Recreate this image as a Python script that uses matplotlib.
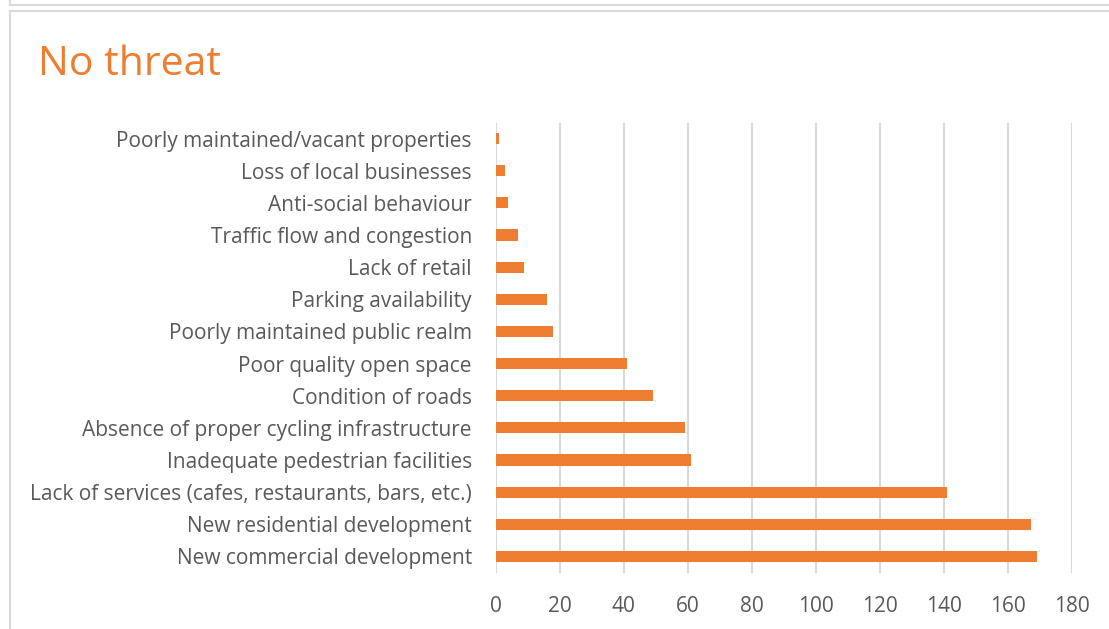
import matplotlib
matplotlib.use("Agg")
import matplotlib.pyplot as plt
from matplotlib.lines import Line2D

# categorias de abajo hacia arriba
categorias = [
    "New commercial development",
    "New residential development",
    "Lack of services (cafes, restaurants, bars, etc.)",
    "Inadequate pedestrian facilities",
    "Absence of proper cycling infrastructure",
    "Condition of roads",
    "Poor quality open space",
    "Poorly maintained public realm",
    "Parking availability",
    "Lack of retail",
    "Traffic flow and congestion",
    "Anti-social behaviour",
    "Loss of local businesses",
    "Poorly maintained/vacant properties",
]
valores = [169, 167, 141, 61, 59, 49, 41, 18, 16, 9, 7, 4, 3, 1]
ticks_x = [0, 20, 40, 60, 80, 100, 120, 140, 160, 180]

naranja = "#ED7D31"
gris_texto = "#595959"
gris_linea = "#D9D9D9"

plt.rcParams['font.family'] = ['Open Sans', 'DejaVu Sans']

fig = plt.figure(figsize=(11.09, 6.29), dpi=100)
W, H = 1109, 629

# marcos del grafico (borde del anterior y del actual)
fig.add_artist(Line2D([10 / W, 1], [1 - 5 / H, 1 - 5 / H], color=gris_linea, lw=1.5))
fig.add_artist(Line2D([10 / W, 10 / W], [1, 1 - 5 / H], color=gris_linea, lw=1.5))
fig.add_artist(Line2D([10 / W, 1], [1 - 11 / H, 1 - 11 / H], color=gris_linea, lw=1.5))
fig.add_artist(Line2D([10 / W, 10 / W], [0, 1 - 11 / H], color=gris_linea, lw=1.5))

ax = fig.add_axes([495.5 / W, 1 - 572.5 / H, (1072.4 - 495.5) / W, 450 / H])
ax.barh(range(len(categorias)), valores, height=0.35, color=naranja, zorder=3)
ax.set_xlim(0, 180)
ax.set_ylim(-0.5, len(categorias) - 0.5)
ax.set_xticks(ticks_x)
ax.set_yticks(range(len(categorias)))
ax.set_yticklabels(categorias)
ax.tick_params(axis='both', length=0, labelsize=15, colors=gris_texto)
ax.tick_params(axis='x', pad=17)
ax.tick_params(axis='y', pad=17)
ax.grid(axis='x', color=gris_linea, lw=1.5, zorder=0)
for s in ax.spines.values():
    s.set_visible(False)

fig.text(38 / W, 1 - 65 / H, "No threat", color=naranja, fontsize=29.5, va='center', ha='left')

fig.savefig("out.png", dpi=100)
